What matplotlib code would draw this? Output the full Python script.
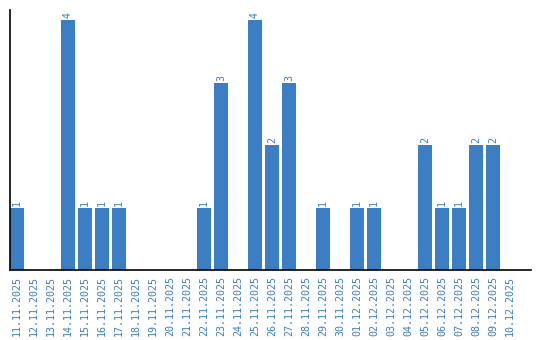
import matplotlib
matplotlib.use("Agg")
import matplotlib.pyplot as plt
import numpy as np

# daily counts
dates = ['11.11.2025', '12.11.2025', '13.11.2025', '14.11.2025', '15.11.2025',
         '16.11.2025', '17.11.2025', '18.11.2025', '19.11.2025', '20.11.2025',
         '21.11.2025', '22.11.2025', '23.11.2025', '24.11.2025', '25.11.2025',
         '26.11.2025', '27.11.2025', '28.11.2025', '29.11.2025', '30.11.2025',
         '01.12.2025', '02.12.2025', '03.12.2025', '04.12.2025', '05.12.2025',
         '06.12.2025', '07.12.2025', '08.12.2025', '09.12.2025', '10.12.2025']
counts = [1, 0, 0, 4, 1, 1, 1, 0, 0, 0,
          0, 1, 3, 0, 4, 2, 3, 0, 1, 0,
          1, 1, 0, 0, 2, 1, 1, 2, 2, 0]

blue = '#3b7ec4'

fig = plt.figure(figsize=(5.4, 3.4), dpi=100)
ax = fig.add_axes([10/540, 70/340, 521/540, 260/340])

x = np.arange(len(dates))
ax.bar(x, counts, width=0.82, color=blue)

for xi, c in zip(x, counts):
    if c > 0:
        ax.text(xi, c + 0.03, str(c), rotation=90, ha='center', va='bottom',
                color=blue, fontsize=7.2, family='DejaVu Sans Mono')

ax.set_xlim(-0.41, 30.24)
ax.set_ylim(0, 4.16)
ax.set_xticks(x)
ax.set_xticklabels(dates, rotation=90, color=blue, fontsize=7.2,
                   family='DejaVu Sans Mono')
ax.tick_params(axis='x', length=0, pad=4)
ax.set_yticks([])
for s in ['top', 'right']:
    ax.spines[s].set_visible(False)
ax.spines['left'].set_linewidth(1.2)
ax.spines['bottom'].set_linewidth(1.2)

fig.savefig('out.png', dpi=100)
